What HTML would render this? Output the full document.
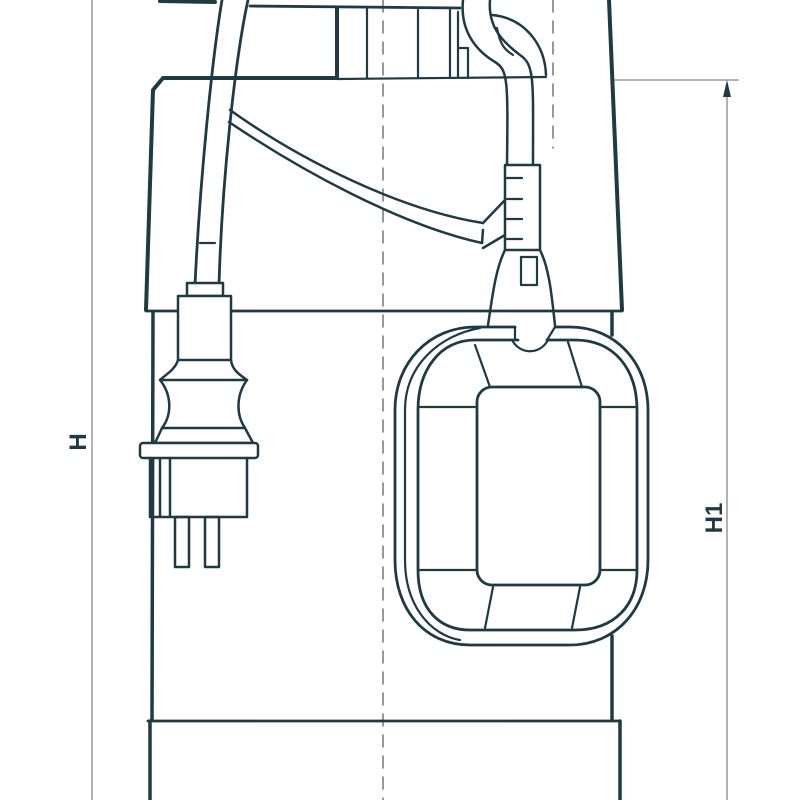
<!DOCTYPE html>
<html><head><style>html,body{margin:0;padding:0;background:#fff}svg{display:block}</style></head>
<body>
<svg width="800" height="800" viewBox="0 0 800 800" xmlns="http://www.w3.org/2000/svg">
<g fill="none" stroke="#1f3a42" stroke-width="2.8" stroke-linejoin="round" stroke-linecap="round">
<line x1="92" y1="0" x2="92" y2="800" stroke="#999" stroke-width="1.5"/>
<line x1="727" y1="85" x2="727" y2="800" stroke="#999" stroke-width="1.5"/>
<line x1="615" y1="80" x2="738" y2="80" stroke="#999" stroke-width="1.5"/>
<polygon points="727,80 723,97 731,97" fill="#1f3a42" stroke="none"/>
<line x1="383" y1="0" x2="383" y2="800" stroke="#777" stroke-width="1.5" stroke-dasharray="12,9"/>
<line x1="553" y1="0" x2="553" y2="148" stroke="#777" stroke-width="1.5" stroke-dasharray="12,9"/>
<path d="M160,1 L215,2" stroke-width="4"/>
<path d="M250,6 L460,8"/>
<path d="M337,8 L337,78" stroke-width="4"/>
<line x1="367" y1="9" x2="367" y2="78" stroke-width="2.2"/>
<line x1="418" y1="10" x2="418" y2="78" stroke-width="2.2"/>
<line x1="450" y1="10" x2="450" y2="78" stroke-width="2.2"/>
<path d="M458,12 L458,78 M458,48 L468,48 L468,78" stroke-width="2.2"/>
<path d="M463,0 C460,30 475,50 495,62 C508,70 508,80 507,165" stroke-width="2.5"/>
<path d="M490,0 C488,25 500,40 520,55 C535,65 533,80 533,165" stroke-width="2.5"/>
<path d="M492,15 C525,18 545,45 546,75" stroke-width="2.5"/>
<path d="M497,28 C500,45 505,50 513,55" stroke-width="2.2"/>
<path d="M337,78 L163,78 L153,90 L146,310" stroke-width="4"/>
<path d="M337,79 L546,77" stroke-width="2.2"/>
<path d="M609,0 L622,310" stroke-width="4"/>
<line x1="146" y1="311" x2="622" y2="311" stroke-width="2.8"/>
<line x1="153" y1="312" x2="152" y2="720" stroke-width="3.5"/>
<line x1="612" y1="312" x2="612" y2="335" stroke-width="3.5"/>
<line x1="612" y1="636" x2="612" y2="720" stroke-width="3.5"/>
<line x1="148" y1="721" x2="620" y2="721" stroke-width="2.8"/>
<line x1="150" y1="721" x2="150" y2="800" stroke-width="3.5"/>
<line x1="620" y1="721" x2="620" y2="800" stroke-width="3.5"/>
<path d="M222,0 C212,60 200,180 195,285" stroke-width="2.8"/>
<path d="M248,0 C235,60 222,180 219,285" stroke-width="2.8"/>
<line x1="200" y1="243" x2="215" y2="243" stroke-width="2.2"/>
<path d="M230,110 C300,160 400,210 483,223" stroke-width="2.5"/>
<path d="M229,122 C300,170 400,225 482,243" stroke-width="2.5"/>
<path d="M483,223 L505,200 M482,243 L483,230 M483,248 L505,235" stroke-width="2.5"/>
<rect x="505" y="165" width="35" height="85" stroke-width="2.5" fill="#fff"/>
<g stroke-width="2.2"><line x1="507" y1="178" x2="522" y2="178"/><line x1="507" y1="199" x2="522" y2="199"/><line x1="507" y1="219" x2="522" y2="219"/><line x1="507" y1="239" x2="522" y2="239"/></g>
<path d="M505,250 C495,270 492,300 488,325 M540,250 C550,270 552,300 555,325" stroke-width="2.5"/>
<rect x="521" y="257" width="16" height="28" stroke-width="2.2"/>
<path d="M515,327 L475,327 C430,327 395,362 395,410 L395,560 C395,610 425,645 470,645 L570,645 C615,645 648,610 648,560 L648,410 C648,362 615,327 570,327 L555,327" stroke-width="2.8"/>
<path d="M480,328 C440,335 405,365 405,410 L405,560 C405,605 430,635 460,640" stroke-width="2.2"/>
<path d="M518,340 L475,340 C440,340 418,370 418,410 L418,570 C418,610 440,630 470,630 L575,630 C615,630 637,605 637,570 L637,410 C637,370 615,340 575,340 L547,340" stroke-width="2.8"/>
<path d="M515,327 L515,340 M555,327 L547,340 M512,340 C520,355 540,355 548,340" stroke-width="2.2"/>
<rect x="477" y="387" width="123" height="198" rx="15" stroke-width="2.8"/>
<g stroke-width="2.2">
<line x1="477" y1="407" x2="420" y2="407"/><line x1="600" y1="407" x2="636" y2="407"/>
<line x1="477" y1="570" x2="420" y2="570"/><line x1="600" y1="570" x2="636" y2="570"/>
<line x1="490" y1="387" x2="475" y2="345"/><line x1="582" y1="387" x2="568" y2="342"/>
<line x1="493" y1="587" x2="485" y2="628"/><line x1="580" y1="587" x2="572" y2="628"/>
</g>
<rect x="187" y="283" width="36" height="13" stroke-width="2.5" fill="#fff"/>
<path d="M178,296 L231,296 L231,360 L178,360 Z" stroke-width="2.5" fill="#fff"/>
<path d="M178,360 C175,370 165,375 160,380 L247,380 C240,375 232,370 231,360" stroke-width="2.5"/>
<path d="M160,380 C172,395 172,415 162,428 L245,428 C236,415 236,395 247,380" stroke-width="2.5"/>
<path d="M162,428 L155,443 L253,443 L245,428" stroke-width="2.5"/>
<rect x="140" y="443" width="118" height="15" rx="3" stroke-width="2.5" fill="#fff"/>
<path d="M150,458 L150,517 L247,517 L247,458 M160,458 L160,517 M170,458 L170,517" stroke-width="2.5"/>
<rect x="175" y="517" width="14" height="50" stroke-width="2.5"/>
<rect x="205" y="517" width="14" height="50" stroke-width="2.5"/>
</g>
<text transform="translate(86,442) rotate(-90)" text-anchor="middle" font-family="Liberation Sans, sans-serif" font-size="24" font-weight="bold" fill="#1f3a42">H</text>
<text transform="translate(722,518) rotate(-90)" text-anchor="middle" font-family="Liberation Sans, sans-serif" font-size="24" font-weight="bold" fill="#1f3a42">H1</text>
</svg>
</body></html>
